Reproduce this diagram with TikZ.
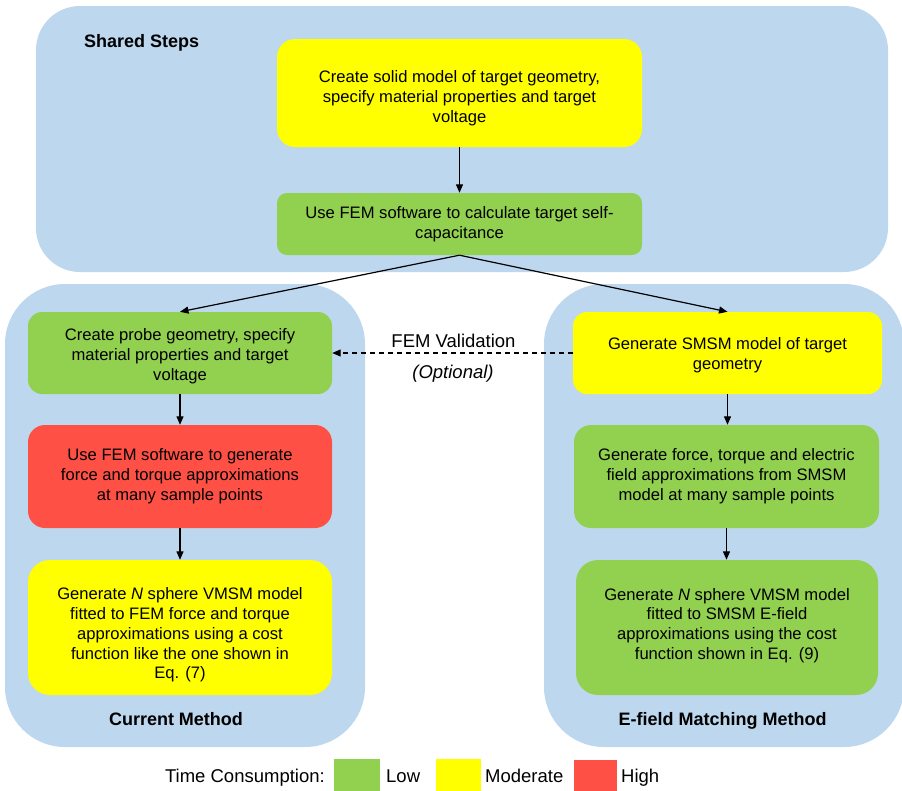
\documentclass[tikz,border=0pt]{standalone}
\usepackage{fontspec}
\setmainfont{Liberation Sans}
\usetikzlibrary{arrows.meta}
\definecolor{cont}{RGB}{189,215,238}
\definecolor{lowc}{RGB}{146,208,80}
\definecolor{modc}{RGB}{255,255,0}
\definecolor{highc}{RGB}{255,80,70}
\begin{document}
\begin{tikzpicture}[x=1pt,y=-1pt,
  container/.style={fill=cont, draw=none, rounded corners=#1, inner sep=0pt},
  stepbox/.style={draw=none, rounded corners=#1, align=center, inner sep=0pt,
    font=\fontsize{16.6pt}{19.8pt}\selectfont},
  steptext/.style={align=center, inner sep=0pt, font=\fontsize{16.6pt}{19.8pt}\selectfont},
  grouplabel/.style={inner sep=0pt, font=\fontsize{18pt}{21pt}\selectfont\bfseries},
  legtext/.style={inner sep=0pt, font=\fontsize{18.5pt}{22pt}\selectfont},
  swatch/.style={draw=none, inner sep=0pt, minimum height=32pt},
  arr/.style={line width=1.2pt, -{Triangle[length=8.5pt,width=7pt]}}
]
\useasboundingbox (0,0) rectangle (902,790);
% containers
\node[container=44pt, minimum width=852pt, minimum height=266pt] (shared) at (462,139) {};
\node[container=60pt, minimum width=360pt, minimum height=463pt] (curm) at (185,515.5) {};
\node[container=60pt, minimum width=360pt, minimum height=463pt] (efm) at (724,515.5) {};
% group labels
\node[grouplabel, anchor=base west] (lshared) at (84,47) {Shared Steps};
\node[grouplabel, anchor=base] (lcur) at (176,725) {Current Method};
\node[grouplabel, anchor=base] (lef) at (722.5,725) {E-field Matching Method};
% steps
\node[stepbox=18pt, fill=modc, minimum width=365pt, minimum height=108pt] (n1) at (459.5,93) {};
\node[steptext] (n1t) at (459.5,98)
  {Create solid model of target geometry,\\ specify material properties and target\\ voltage};
\node[stepbox=10pt, fill=lowc, minimum width=365pt, minimum height=62pt] (n2) at (459.5,224)
  {Use FEM software to calculate target self-\\capacitance};
\node[stepbox=14pt, fill=lowc, minimum width=304pt, minimum height=82pt] (nA) at (180,353) {};
\node[steptext] (nAt) at (180,356)
  {Create probe geometry, specify\\ material properties and target\\ voltage};
\node[stepbox=17pt, fill=highc, minimum width=304pt, minimum height=103pt] (nB) at (180,476.5)
  {Use FEM software to generate\\ force and torque approximations\\ at many sample points};
\node[stepbox=22pt, fill=modc, minimum width=304pt, minimum height=135pt] (nC) at (180,627.5) {};
\node[steptext] (nCt) at (180,635)
  {Generate \textit{N} sphere VMSM model\\ fitted to FEM force and torque\\ approximations using a cost\\ function like the one shown in\\ Eq. (7)};
\node[stepbox=14pt, fill=modc, minimum width=309pt, minimum height=82pt] (nD) at (727.5,353) {};
\node[steptext] (nDt) at (727.5,355)
  {Generate SMSM model of target\\ geometry};
\node[stepbox=17pt, fill=lowc, minimum width=305pt, minimum height=103pt] (nE) at (726.5,476.5)
  {Generate force, torque and electric\\ field approximations from SMSM\\ model at many sample points};
\node[stepbox=22pt, fill=lowc, minimum width=302pt, minimum height=135pt] (nF) at (727,627.5) {};
\node[steptext] (nFt) at (727,625.5)
  {Generate \textit{N} sphere VMSM model\\ fitted to SMSM E-field\\ approximations using the cost\\ function shown in Eq. (9)};
% connectors
\draw[arr] (n1) -- (n2);
\draw[arr] (n2.south) -- (nA.north);
\draw[arr] (n2.south) -- (nD.north);
\draw[arr] (nA) -- (nB);
\draw[arr] (nB) -- (nC);
\draw[arr] (nD.south) -- (nD.south |- nE.north);
\draw[arr] (nE.south) -- (nE.south |- nF.north);
\draw[arr, dash pattern=on 5pt off 4pt] (nD.west) -- (nA.east);
\node[legtext, anchor=base] (fv) at (453.5,347) {FEM Validation};
\node[legtext, anchor=base] (opt) at (453,378) {\itshape (Optional)};
% legend
\node[legtext, anchor=base east] (tc) at (325,782) {Time Consumption:};
\node[swatch, fill=lowc, minimum width=46pt, anchor=north west] (swl) at (334,759) {};
\node[legtext, anchor=base west] (tl) at (386,782) {Low};
\node[swatch, fill=modc, minimum width=45pt, anchor=north west] (swm) at (436,759) {};
\node[legtext, anchor=base west] (tm) at (485,782) {Moderate};
\node[swatch, fill=highc, minimum width=43pt, anchor=north west] (swh) at (574,760) {};
\node[legtext, anchor=base west] (th) at (621,782) {High};
\end{tikzpicture}
\end{document}
